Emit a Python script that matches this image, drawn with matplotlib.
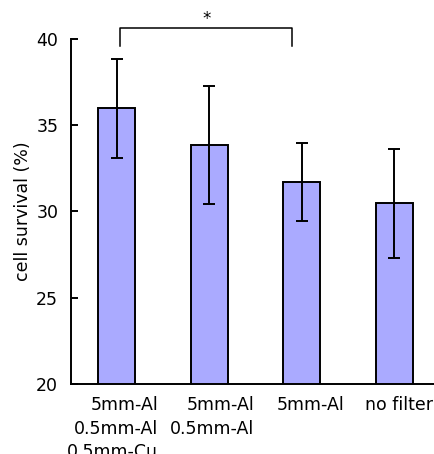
import matplotlib
matplotlib.use("Agg")
import matplotlib.pyplot as plt
from matplotlib.transforms import ScaledTranslation

categories = ["5mm-Al\n0.5mm-Al\n0.5mm-Cu", "5mm-Al\n0.5mm-Al", "5mm-Al", "no filter"]
survival = [36.0, 33.86, 31.72, 30.47]
errors = [2.88, 3.4, 2.28, 3.15]
y_ticks = [20, 25, 30, 35, 40]

plt.rcParams['font.family'] = ['DejaVu Sans']

fig = plt.figure(figsize=(4.35, 4.54), dpi=100)
ax = fig.add_axes([0.1625, 0.1549, 0.8506, 0.7586])

x = list(range(len(categories)))
ax.bar(x, survival, width=0.4, color='#aaaaff', edgecolor='black', linewidth=1.4, zorder=2)
ax.errorbar(x, survival, yerr=errors, fmt='none', ecolor='black', elinewidth=1.4,
            capsize=4.5, capthick=1.4, zorder=3)

ax.set_xlim(-0.5, 3.5)
ax.set_ylim(20, 40)
ax.set_yticks(y_ticks)
ax.set_yticklabels([str(t) for t in y_ticks], fontsize=12.5)
ax.set_xticks(x)
ax.set_xticklabels(categories, fontsize=12.5, multialignment='right', linespacing=1.4)
ax.tick_params(axis='x', length=0, pad=9)
ax.tick_params(axis='y', direction='in', length=5, width=1.4, pad=9)
ax.set_ylabel('cell survival (%)', fontsize=12.5, labelpad=3)

# small horizontal nudges of the category labels, as in the reference
nudges_pt = [-3, 2, 6, 3]
for lab, dx in zip(ax.get_xticklabels(), nudges_pt):
    lab.set_transform(lab.get_transform() + ScaledTranslation(dx / 72, 0, fig.dpi_scale_trans))

for s in ['top', 'right']:
    ax.spines[s].set_visible(False)
for s in ['left', 'bottom']:
    ax.spines[s].set_linewidth(1.4)

# significance bracket
bx0, bx1 = 0.03, 1.895
ytop, ybot = 40.66, 39.61
ax.plot([bx0, bx0, bx1, bx1], [ybot, ytop, ytop, ybot], color='black', linewidth=1.1, clip_on=False)
ax.text(0.97, 41.2, '*', ha='center', va='center', fontsize=12, clip_on=False)

fig.savefig('out.png', dpi=100)
